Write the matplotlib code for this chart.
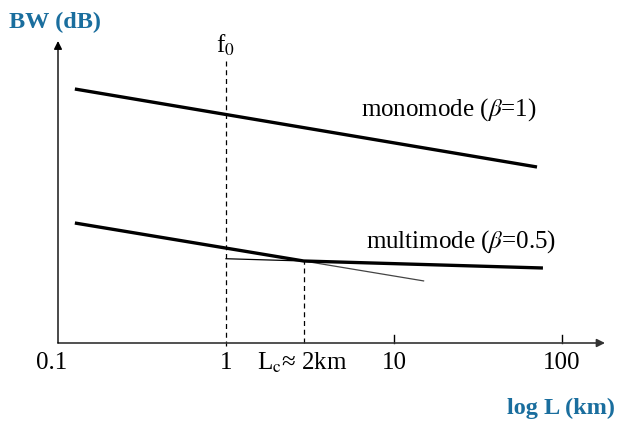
import numpy as np
import matplotlib
matplotlib.use("Agg")
import matplotlib.pyplot as plt

plt.rcParams["font.family"] = ["Liberation Serif", "DejaVu Serif"]
plt.rcParams["mathtext.fontset"] = "stix"

BLUE = "#1a6e9e"

# fiber length (km) and bandwidth (arbitrary dB units above the L axis)
mono_L = [0.126, 71.0]
mono_bw = [254, 176]
multi_L = [0.126, 2.9, 77.0]
multi_bw = [120, 82, 75]
L_cross = 2.9          # coupling length, where the multimode slope changes
L_f0 = 1.0
ext_left = 1.0         # thin extension of the flat asymptote
ext_right = 15.0       # thin extension of the steep asymptote
tick_L = [0.1, 1, 10, 100]
tick_txt = ["0.1", "1", "10", "100"]


def loglin(x0, y0, x1, y1, x):
    t = (np.log10(x) - np.log10(x0)) / (np.log10(x1) - np.log10(x0))
    return y0 + t * (y1 - y0)


def px(p):
    # horizontal pixel -> length on the log axis
    return 10 ** ((p - 226) / 168)


fig = plt.figure(figsize=(6.18, 4.21), dpi=100)
ax = fig.add_axes([0, 0, 1, 1])
ax.set_xscale("log")
ax.set_xlim(px(0), px(618))
ax.set_ylim(-78, 343)
ax.axis("off")

# axes with arrowheads
ax.annotate("", xy=(px(605), 0), xytext=(0.1, 0),
            arrowprops=dict(arrowstyle="-|>", color="#333333", lw=1.2,
                            mutation_scale=12, shrinkA=0, shrinkB=0))
ax.annotate("", xy=(0.1, 302), xytext=(0.1, 0),
            arrowprops=dict(arrowstyle="-|>", color="black", lw=1.0,
                            mutation_scale=12, shrinkA=0, shrinkB=0))
for L in tick_L[2:]:
    ax.plot([L, L], [0, 8], color="black", lw=1.0)
for L, t in zip(tick_L, tick_txt):
    dx = 0.92 if L == 0.1 else 1.0
    ax.text(L * dx, -20, t, ha="center", va="center", fontsize=18)

# f0 and Lc markers
ax.plot([L_f0, L_f0], [-3, 283], color="black", lw=0.9, ls=(0, (4, 3)))
ax.text(L_f0 * 0.99, 298, "f$_0$", ha="center", va="center", fontsize=18)
ax.plot([L_cross, L_cross], [0, multi_bw[1]], color="black", lw=0.9, ls=(0, (4, 3)))
ax.text(px(257), -20, "L$_\\mathrm{c}$≈ 2km", ha="left", va="center", fontsize=18)

# asymptote extensions
ax.plot([ext_left, L_cross],
        [loglin(L_cross, multi_bw[1], multi_L[2], multi_bw[2], ext_left), multi_bw[1]],
        color="black", lw=0.9)
ax.plot([L_cross, ext_right],
        [multi_bw[1], loglin(multi_L[0], multi_bw[0], L_cross, multi_bw[1], ext_right)],
        color="#444444", lw=0.9)

# bandwidth curves
ax.plot(mono_L, mono_bw, color="black", lw=2.4, solid_capstyle="butt")
ax.plot(multi_L, multi_bw, color="black", lw=2.4, solid_capstyle="butt")
ax.text(px(361), 233, "monomode ($\\beta$=1)",
        ha="left", va="center", fontsize=18)
ax.text(px(366), 101, "multimode ($\\beta$=0.5)",
        ha="left", va="center", fontsize=18)

ax.text(px(9), 321, "BW (dB)", ha="left", va="center",
        fontsize=17.5, fontweight="bold", color=BLUE)
ax.text(px(615), -65, "log L (km)", ha="right", va="center",
        fontsize=17.5, fontweight="bold", color=BLUE)

fig.savefig("out.png", dpi=100)
